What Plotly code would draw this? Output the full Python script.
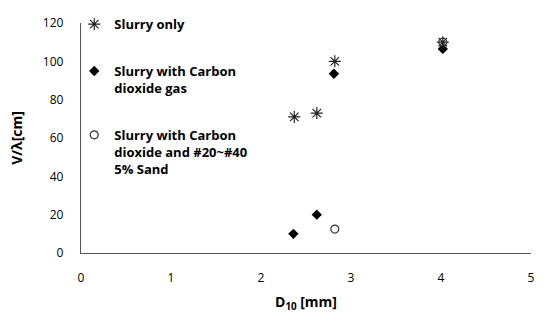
import plotly.graph_objects as go

# Data
slurry_x = [2.37, 2.62, 2.82, 4.02]
slurry_y = [71, 73, 100, 110]
co2_x = [2.36, 2.62, 2.81, 4.02]
co2_y = [10, 20, 93.5, 106.5]
sand_x = [2.82, 4.02]
sand_y = [12.5, 110]

names = [
    "Slurry only",
    "Slurry with Carbon<br>dioxide gas",
    "Slurry with Carbon<br>dioxide and #20~#40<br>5% Sand",
]

fig = go.Figure()
fig.add_trace(go.Scatter(
    x=slurry_x, y=slurry_y, mode="markers", name=names[0], legendgroup="a",
    marker=dict(symbol="asterisk-open", size=10, color="#222",
                line=dict(color="#222", width=1.2)),
))
fig.add_trace(go.Scatter(
    x=co2_x, y=co2_y, mode="markers", name=names[1], legendgroup="b",
    marker=dict(symbol="diamond", size=8, color="black"),
))
fig.add_trace(go.Scatter(
    x=sand_x, y=sand_y, mode="markers", name=names[2], legendgroup="c",
    marker=dict(symbol="circle-open", size=8, color="#333",
                line=dict(color="#333", width=1.2)),
))

font_family = "Open Sans, Liberation Sans, Arial, sans-serif"

fig.update_layout(
    width=544, height=322,
    margin=dict(l=81, r=9, t=13, b=69),
    paper_bgcolor="white", plot_bgcolor="white",
    font=dict(family=font_family, size=12, color="black"),
    showlegend=True,
    legend=dict(
        x=-0.015, y=1.06, xanchor="left", yanchor="top",
        bgcolor="rgba(0,0,0,0)", valign="top",
        font=dict(size=13, family=font_family, weight="bold"),
        tracegroupgap=27, itemwidth=30, maxheight=1,
    ),
    xaxis=dict(
        range=[0, 5], dtick=1, tick0=0, showgrid=False, zeroline=False,
        showline=True, linecolor="#555", linewidth=1.3, ticks="",
        ticklabelstandoff=13, tickfont=dict(size=12),
        title=dict(text="<b>D<sub>10</sub> [mm]</b>", font=dict(size=14), standoff=12),
    ),
    yaxis=dict(
        range=[0, 120], dtick=20, tick0=0, showgrid=False, zeroline=False,
        showline=True, linecolor="#555", linewidth=1.3, ticks="",
        ticklabelstandoff=14, tickfont=dict(size=12),
        title=dict(text="<b>V/λ[cm]</b>", font=dict(size=14), standoff=16),
    ),
)
for tr in fig.data:
    tr.cliponaxis = False

fig.write_html("out.html")
